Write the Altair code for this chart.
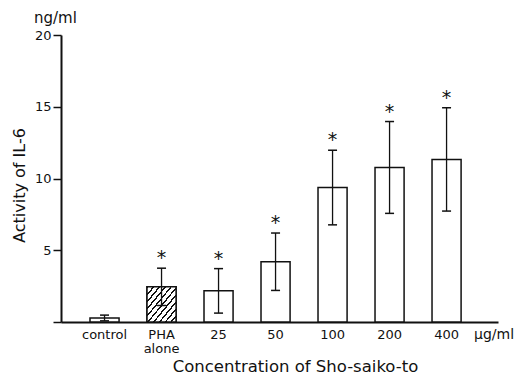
import altair as alt
import pandas as pd

categories = ["control", "PHA alone", "25", "50", "100", "200", "400"]
means = [0.28, 2.45, 2.17, 4.2, 9.37, 10.77, 11.33]
errors = [0.2, 1.3, 1.55, 2.0, 2.6, 3.2, 3.6]
significant = [False, True, True, True, True, True, True]
y_ticks = [0, 5, 10, 15, 20]

df = pd.DataFrame({"cat": categories, "mean": means, "err": errors, "sig": significant})
df["lo"] = df["mean"] - df["err"]
df["hi"] = df["mean"] + df["err"]

FONT = "DejaVu Sans"
INK = "#111111"

xscale = alt.Scale(domain=categories, paddingInner=0.49, paddingOuter=0.578, align=0.44)
yscale = alt.Scale(domain=[0, 20], nice=False)

xaxis = alt.Axis(
    title="Concentration of Sho-saiko-to", titleFont=FONT, titleFontSize=16.5,
    titleFontWeight="normal", titleColor=INK, titleX=234, titleY=49,
    titleBaseline="alphabetic", titleAlign="center",
    labelAngle=0, labelFont=FONT, labelFontSize=13, labelColor=INK,
    labelPadding=6, labelLineHeight=14,
    labelExpr="datum.label == 'PHA alone' ? ['PHA', 'alone'] : datum.label",
    ticks=False, domainColor=INK, domainWidth=2, grid=False,
)
yaxis = alt.Axis(
    title="Activity of IL-6", titleFont=FONT, titleFontSize=16,
    titleFontWeight="normal", titleColor=INK, titleX=-37, titleY=150,
    titleBaseline="alphabetic", titleAlign="center", titleAngle=270,
    values=y_ticks, labelExpr="datum.value == 0 ? '' : datum.label",
    labelFont=FONT, labelFontSize=13, labelColor=INK, labelPadding=2,
    tickSize=8, tickWidth=1.5, tickColor=INK,
    domainColor=INK, domainWidth=2, grid=False,
)

X = alt.X("cat:N", scale=xscale, sort=categories, axis=xaxis)

base = alt.Chart(df)

bars = base.mark_bar(fill="white", stroke=INK, strokeWidth=1.5).encode(
    x=X, y=alt.Y("mean:Q", scale=yscale, axis=yaxis)
)

stops = []
N = 10
for i in range(N):
    a = i / N
    b = (i + 0.3) / N
    c = (i + 1) / N
    stops += [
        {"offset": a, "color": INK},
        {"offset": b, "color": INK},
        {"offset": b, "color": "white"},
        {"offset": c, "color": "white"},
    ]
hatch = {"gradient": "linear", "x1": 0, "y1": 0, "x2": 1, "y2": 1, "stops": stops}

pha = base.transform_filter("datum.cat == 'PHA alone'").mark_bar(
    fill=hatch, stroke=INK, strokeWidth=1.5
).encode(x=X, y=alt.Y("mean:Q", scale=yscale, axis=yaxis))

rule = base.mark_rule(color=INK, strokeWidth=1.3).encode(
    x=X, y=alt.Y("lo:Q", scale=yscale, axis=yaxis), y2="hi:Q"
)
cap_hi = base.mark_tick(orient="horizontal", size=9, thickness=1.5, color=INK, opacity=1).encode(
    x=X, y=alt.Y("hi:Q", scale=yscale, axis=yaxis)
)
cap_lo = base.mark_tick(orient="horizontal", size=9, thickness=1.5, color=INK, opacity=1).encode(
    x=X, y=alt.Y("lo:Q", scale=yscale, axis=yaxis)
)
stars = base.transform_filter("datum.sig").mark_text(
    text="*", font=FONT, fontSize=19, color=INK, baseline="alphabetic", dy=-4
).encode(x=X, y=alt.Y("hi:Q", scale=yscale, axis=yaxis))

ann = alt.Chart(pd.DataFrame({"t": ["ng/ml"]}))
ng = ann.mark_text(font=FONT, fontSize=15, color=INK, align="left", baseline="alphabetic").encode(
    text="t:N", x=alt.value(-27), y=alt.value(-12)
)
ann2 = alt.Chart(pd.DataFrame({"t": ["μg/ml"]}))
ug = ann2.mark_text(font=FONT, fontSize=14, color=INK, align="left", baseline="alphabetic").encode(
    text="t:N", x=alt.value(413), y=alt.value(304)
)

chart = alt.layer(bars, pha, rule, cap_hi, cap_lo, stars, ng, ug).properties(
    width=437, height=287,
    autosize=alt.AutoSizeParams(type="none"),
    padding={"left": 53, "top": 27, "right": 16, "bottom": 53},
    background="white",
).configure_view(stroke=None)

chart.save("out.html", embed_options={"renderer": "svg", "actions": False})
